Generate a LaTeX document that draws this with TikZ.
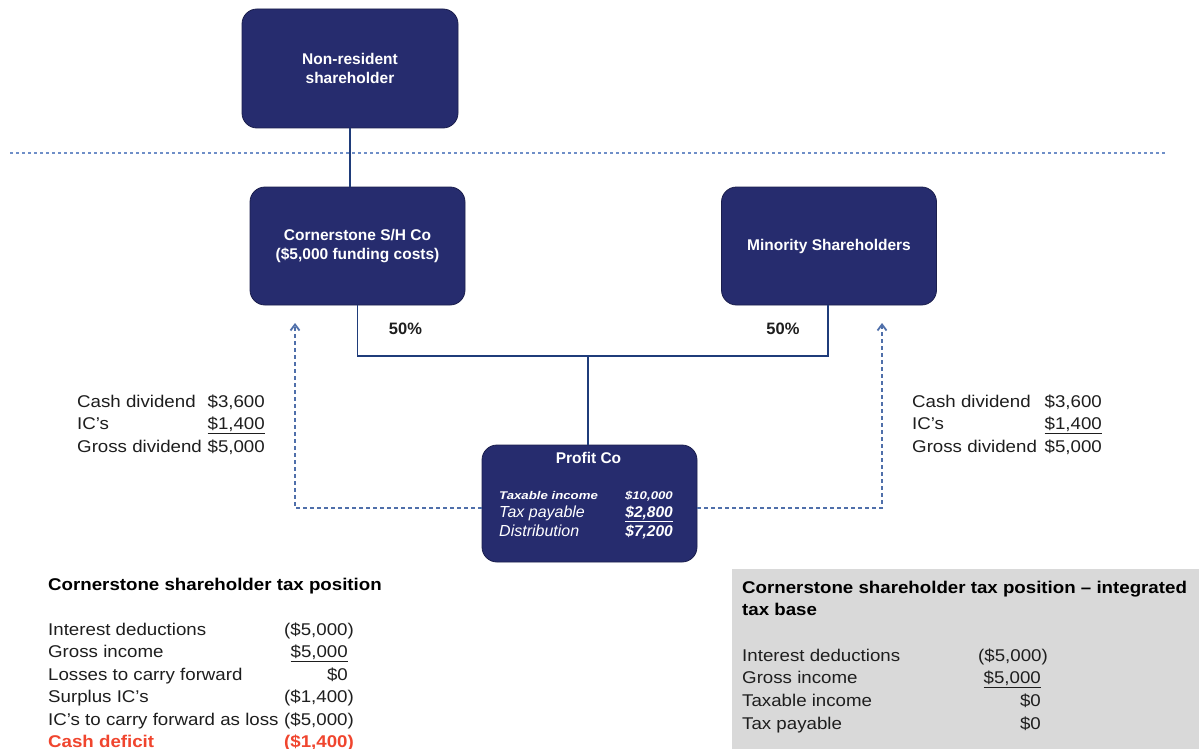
\documentclass[tikz,border=0pt]{standalone}
\usepackage{fontspec}
\setmainfont{Liberation Sans}
\newfontfamily\bodyf[FakeStretch=1.1]{Liberation Sans}
\newfontfamily\widef[FakeStretch=1.18]{Liberation Sans}
\usetikzlibrary{arrows.meta}
\definecolor{navy}{HTML}{262C6E}
\definecolor{linec}{HTML}{1F3C7A}
\definecolor{dashc}{HTML}{4F6FAA}
\definecolor{dotc}{HTML}{6F8FC8}
\definecolor{greyb}{HTML}{D9D9D9}
\definecolor{redc}{HTML}{F0452E}
\definecolor{txt}{HTML}{1E1E1E}
\begin{document}
\begin{tikzpicture}[x=1pt,y=-1pt,
  ent/.style={draw=navy!70!black, line width=0.8pt, fill=navy, rounded corners=15pt,
    text=white, font=\bfseries\fontsize{15.5}{18.5}\selectfont, align=center, inner sep=0pt},
  conn/.style={draw=linec, line width=1.8pt},
  flow/.style={draw=dashc, line width=1.4pt, dash pattern=on 4pt off 3pt,
    -{Straight Barb[length=6pt,width=9pt,line width=1.8pt]}},
  lab/.style={font=\bodyf\fontsize{17}{20}\selectfont, text=txt, inner sep=0pt, anchor=base west},
  val/.style={lab, anchor=base east},
  ttl/.style={lab, font=\bodyf\bfseries\fontsize{17}{20}\selectfont, text=black},
  pct/.style={font=\bfseries\fontsize{16.5}{20}\selectfont, text=txt, inner sep=0pt},
  wl/.style={text=white, inner sep=0pt, anchor=base west},
  wv/.style={text=white, inner sep=0pt, anchor=base east},
]
\useasboundingbox (0,0) rectangle (1199,749);
\fill[white] (0,0) rectangle (1199,749);

% separator
\draw[dotc, line width=1.3pt, dash pattern=on 3pt off 3pt] (10,153) -- (1165,153);

% entities
\node[ent, minimum width=216pt, minimum height=119pt] (nr) at (350,68.5) {Non-resident\\shareholder};
\node[ent, minimum width=215pt, minimum height=118pt] (cs) at (357.5,246) {Cornerstone S/H Co\\(\$5,000 funding costs)};
\node[ent, minimum width=215pt, minimum height=118pt] (ms) at (829,246) {Minority Shareholders};
\node[ent, minimum width=215pt, minimum height=117pt] (pc) at (589.5,503.5) {};

% connectors
\coordinate (j) at (588,356);
\draw[conn] (nr.south) -- (nr.south |- cs.north);
\draw[conn] (cs.south) |- (j) -| ([xshift=-1pt]ms.south);
\draw[conn] (j) -- (j |- pc.north);

\node[pct] (p50a) at (405.5,329) {50\%};
\node[pct] (p50b) at (783,329) {50\%};

% dividend flows
\coordinate (lt) at (295,323);
\coordinate (rt) at (882,323);
\draw[flow] ([yshift=-4.5pt]pc.west) -| (lt);
\draw[flow] ([yshift=-4.5pt]pc.east) -| (rt);

% Profit Co contents
\node[text=white, inner sep=0pt, anchor=base, font=\bfseries\fontsize{15.5}{18}\selectfont] (pct) at (588.5,463) {Profit Co};
\node[wl, font=\widef\bfseries\itshape\fontsize{11.2}{13}\selectfont] (p1l) at (499,499) {Taxable income};
\node[wv, font=\widef\bfseries\itshape\fontsize{11.2}{13}\selectfont] (p1v) at (673,499) {\$10,000};
\node[wl, font=\itshape\fontsize{16}{19}\selectfont] (p2l) at (499,517) {Tax payable};
\node[wv, font=\bfseries\itshape\fontsize{15.5}{19}\selectfont] (p2v) at (673,517) {\underline{\$2,800}};
\node[wl, font=\itshape\fontsize{16}{19}\selectfont] (p3l) at (499,536) {Distribution};
\node[wv, font=\bfseries\itshape\fontsize{15.5}{19}\selectfont] (p3v) at (673,536) {\$7,200};

% left dividend block
\node[lab] (l1) at (77,407) {Cash dividend};
\node[val] (l1v) at (265,407) {\$3,600};
\node[lab] (l2) at (77,429.5) {IC’s};
\node[val] (l2v) at (265,429.5) {\underline{\$1,400}};
\node[lab] (l3) at (77,452) {Gross dividend};
\node[val] (l3v) at (265,452) {\$5,000};

% right dividend block
\node[lab] (r1) at (912,407) {Cash dividend};
\node[val] (r1v) at (1102,407) {\$3,600};
\node[lab] (r2) at (912,429.5) {IC’s};
\node[val] (r2v) at (1102,429.5) {\underline{\$1,400}};
\node[lab] (r3) at (912,452) {Gross dividend};
\node[val] (r3v) at (1102,452) {\$5,000};

% bottom-left table
\node[ttl] (bt) at (48,590) {Cornerstone shareholder tax position};
\node[lab] (b1) at (48,635) {Interest deductions};
\node[val] (b1v) at (354,635) {(\$5,000)};
\node[lab] (b2) at (48,657.5) {Gross income};
\node[val] (b2v) at (348,657.5) {\underline{\$5,000}};
\node[lab] (b3) at (48,680) {Losses to carry forward};
\node[val] (b3v) at (348,680) {\$0};
\node[lab] (b4) at (48,702.5) {Surplus IC’s};
\node[val] (b4v) at (354,702.5) {(\$1,400)};
\node[lab] (b5) at (48,725) {IC’s to carry forward as loss};
\node[val] (b5v) at (354,725) {(\$5,000)};
\node[lab, text=redc, font=\bodyf\bfseries\fontsize{17}{20}\selectfont] (b6) at (48,747.5) {Cash deficit};
\node[val, text=redc, font=\bodyf\bfseries\fontsize{17}{20}\selectfont] (b6v) at (354,747.5) {(\$1,400)};

% right grey panel
\node[fill=greyb, anchor=north west, minimum width=467pt, minimum height=180pt, inner sep=0pt] (gb) at (732,569) {};
\node[ttl] (gt1) at (742,593) {Cornerstone shareholder tax position – integrated};
\node[ttl] (gt2) at (742,615) {tax base};
\node[lab] (g1) at (742,661) {Interest deductions};
\node[val] (g1v) at (1048,661) {(\$5,000)};
\node[lab] (g2) at (742,683.7) {Gross income};
\node[val] (g2v) at (1041,683.7) {\underline{\$5,000}};
\node[lab] (g3) at (742,706.4) {Taxable income};
\node[val] (g3v) at (1041,706.4) {\$0};
\node[lab] (g4) at (742,729) {Tax payable};
\node[val] (g4v) at (1041,729) {\$0};
\end{tikzpicture}
\end{document}
